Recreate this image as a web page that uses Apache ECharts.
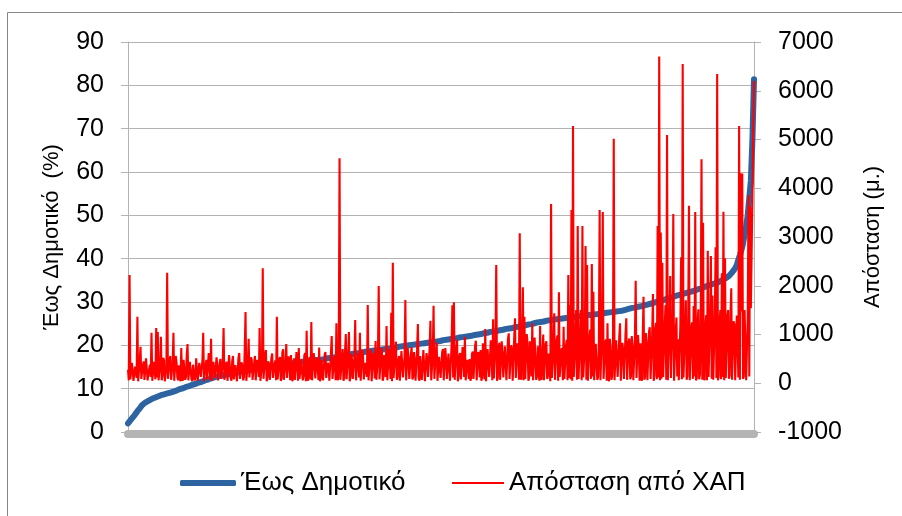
<!DOCTYPE html>
<html>
<head>
<meta charset="utf-8">
<script src="https://cdn.jsdelivr.net/npm/echarts@6/dist/echarts.min.js"></script>
<style>
html,body{margin:0;padding:0;background:#fff;}
#chart{width:902px;height:516px;}
</style>
</head>
<body>
<div id="chart"></div>
<script>
var seriesNames = ['Έως Δημοτικό', 'Απόσταση από ΧΑΠ'];
var leftAxisName = 'Έως Δημοτικό  (%)';
var rightAxisName = 'Απόσταση (μ.)';

// Έως Δημοτικό (%) — sorted ascending
var primaryValues = [
2.0,2.4,2.9,3.3,3.8,4.3,4.8,5.2,5.7,6.2,6.6,6.8,7.0,7.2,7.4,7.6,7.8,7.9,8.1,8.2,
8.4,8.5,8.6,8.7,8.8,8.9,9.0,9.1,9.2,9.3,9.5,9.6,9.8,9.9,10.0,10.1,10.3,10.4,10.5,10.6,
10.8,10.9,11.0,11.1,11.3,11.4,11.5,11.6,11.7,11.9,12.0,12.1,12.3,12.4,12.5,12.6,12.7,12.8,12.9,13.0,
13.1,13.1,13.2,13.3,13.4,13.4,13.5,13.6,13.6,13.7,13.8,13.8,13.9,14.0,14.0,14.1,14.2,14.2,14.4,14.4,
14.5,14.6,14.6,14.7,14.8,14.8,14.9,15.0,15.0,15.1,15.2,15.2,15.3,15.3,15.4,15.4,15.5,15.5,15.6,15.6,
15.7,15.7,15.8,15.8,15.9,15.9,16.0,16.0,16.1,16.1,16.2,16.2,16.3,16.3,16.4,16.4,16.5,16.5,16.6,16.6,
16.6,16.6,16.7,16.7,16.8,16.8,16.9,17.0,17.0,17.1,17.2,17.2,17.3,17.3,17.4,17.5,17.5,17.6,17.7,17.7,
17.8,17.9,17.9,18.0,18.0,18.1,18.2,18.2,18.3,18.3,18.4,18.5,18.5,18.6,18.6,18.7,18.8,18.8,18.9,18.9,
19.0,19.0,19.1,19.1,19.2,19.2,19.3,19.3,19.4,19.4,19.5,19.5,19.6,19.7,19.7,19.8,19.8,19.9,19.9,20.0,
20.1,20.1,20.2,20.2,20.3,20.3,20.4,20.4,20.5,20.5,20.6,20.6,20.7,20.7,20.8,20.8,20.9,20.9,21.0,21.0,
21.1,21.2,21.2,21.3,21.3,21.4,21.5,21.5,21.6,21.6,21.7,21.8,21.8,21.9,21.9,22.0,22.1,22.1,22.2,22.2,
22.3,22.4,22.4,22.5,22.6,22.6,22.7,22.8,22.8,22.9,23.0,23.1,23.1,23.2,23.3,23.3,23.4,23.5,23.6,23.6,
23.7,23.8,23.8,23.9,24.0,24.0,24.1,24.2,24.3,24.3,24.4,24.5,24.6,24.6,24.7,24.8,24.9,24.9,25.0,25.1,
25.2,25.3,25.3,25.4,25.5,25.5,25.6,25.7,25.8,25.8,25.9,25.9,26.0,26.0,26.1,26.1,26.2,26.2,26.3,26.3,
26.4,26.4,26.5,26.5,26.6,26.6,26.7,26.7,26.8,26.8,26.9,26.9,26.9,27.0,27.0,27.0,27.1,27.1,27.1,27.2,
27.2,27.3,27.3,27.4,27.4,27.5,27.5,27.6,27.6,27.7,27.8,27.8,27.9,27.9,28.0,28.0,28.1,28.2,28.3,28.4,
28.5,28.6,28.6,28.7,28.8,28.9,28.9,29.0,29.1,29.2,29.3,29.4,29.5,29.6,29.7,29.8,29.9,30.0,30.1,30.2,
30.3,30.4,30.5,30.7,30.8,30.9,31.0,31.1,31.3,31.4,31.5,31.6,31.7,31.8,31.9,32.0,32.1,32.2,32.3,32.4,
32.5,32.6,32.8,32.9,33.0,33.1,33.3,33.4,33.5,33.7,33.8,33.9,34.1,34.2,34.3,34.4,34.6,34.7,34.9,35.1,
35.3,35.5,35.8,36.0,36.3,36.8,37.3,37.8,38.5,39.7,40.8,42.0,43.5,45.5,47.5,50.0,54.0,58.0,67.5,81.4
];

// Απόσταση από ΧΑΠ (μ.) — same sorted order, denser sampling
var distanceValues = [
280,60,2220,80,90,420,380,50,60,340,310,110,1365,40,70,480,750,90,120,360,450,70,40,510,520,60,90,290,380,130,1037,50,60,440,430,80,1133,120,1050,60,
80,390,955,60,150,520,470,40,50,330,2268,90,110,470,560,70,70,410,1037,50,90,560,420,120,60,370,380,40,723,100,50,480,520,70,130,600,805,60,70,440,
460,90,40,380,350,60,110,510,540,50,70,420,300,130,90,470,1037,40,60,350,480,80,120,620,590,70,914,50,50,440,420,110,80,530,360,60,40,410,500,90,
100,460,1133,70,60,390,440,50,90,580,330,120,50,450,560,80,120,370,410,40,40,520,620,90,80,430,350,60,130,690,1461,50,60,400,914,120,110,530,480,70,
50,410,560,60,90,480,420,130,1133,50,70,360,2357,90,60,590,680,40,120,450,390,70,50,520,610,110,80,380,470,60,1365,80,60,470,540,50,100,630,697,70,
60,430,805,110,90,550,420,60,580,130,40,400,510,70,110,640,380,50,723,90,70,490,450,60,130,570,620,40,1078,120,50,460,540,80,1256,60,80,620,460,100,
60,520,390,70,733,40,100,480,510,60,40,590,640,110,120,420,350,50,70,610,969,90,90,470,560,60,1229,130,60,540,4614,70,80,490,700,50,110,650,1010,80,
60,560,1051,40,130,600,480,90,70,530,1297,60,90,480,620,120,1037,50,50,690,560,80,120,420,430,130,1605,60,70,570,690,40,40,620,520,100,867,70,90,550,
1995,80,60,640,720,50,110,580,480,130,1174,60,50,700,640,90,1447,40,2473,110,80,610,853,70,120,480,560,50,40,660,690,120,100,540,1708,60,70,720,520,90,
60,590,740,80,130,640,450,50,90,700,1215,110,50,560,600,70,110,680,697,40,70,620,480,130,150,740,1283,60,60,590,1591,90,90,660,832,50,40,540,560,110,
120,640,700,60,60,720,480,90,90,610,640,50,50,780,1600,120,1660,70,80,690,887,40,130,560,620,80,60,740,540,130,955,60,40,480,380,90,497,50,110,600,
650,90,70,760,873,60,50,640,560,120,682,50,120,820,480,80,1113,40,60,700,720,130,90,880,540,60,1311,100,70,790,2426,50,110,720,832,70,40,860,600,120,
130,760,800,60,60,910,1024,90,90,780,720,50,50,960,1332,110,140,820,680,70,3075,130,70,880,1968,60,1365,90,60,1010,820,50,110,860,640,140,1229,60,50,940,
900,70,130,760,740,50,1174,120,70,650,1000,60,40,810,860,90,150,610,620,40,3677,110,90,720,1434,70,60,870,980,50,1865,130,110,670,720,60,1160,90,50,770,
890,60,2220,110,1605,80,3554,50,5277,130,120,830,1500,70,3226,90,80,880,1500,60,3226,120,140,740,2815,70,2426,50,60,920,1100,90,2446,140,1878,60,90,810,800,70,
130,850,3554,60,70,980,3513,90,60,810,900,50,1229,110,40,910,760,70,150,760,5017,60,80,880,880,130,120,950,1229,50,50,830,680,90,110,1010,1332,70,60,850,
920,80,140,970,740,60,70,900,2104,110,100,990,640,50,819,130,50,950,1776,70,130,1030,800,60,60,1060,1150,90,90,970,1831,50,160,1110,1240,80,3226,120,6700,60,
3090,90,2473,130,120,1150,1600,70,5092,60,80,1070,2200,110,140,1200,3472,50,60,1040,1350,140,900,60,100,1180,2583,80,6549,120,90,1090,1700,70,150,1270,3643,60,70,1130,
1250,90,1584,140,3513,60,110,1230,1516,80,180,1300,4593,70,3294,120,60,1180,1400,60,2720,130,130,1350,2610,90,1800,70,90,1320,2788,110,6344,60,150,1220,1500,80,2255,130,
3520,60,2563,110,70,1370,1500,90,160,1430,1947,70,100,1270,1200,60,60,1390,900,120,5277,70,4306,1470,4300,90,140,1500,1500,60,80,1330,3862,140,3621,1540,1500,3800,5200,6200
];

var categories = primaryValues.map(function (_, i) { return String(i + 1); });
var detailCategories = distanceValues.map(function (_, i) { return String(i + 1); });

var font = 'Liberation Sans, Arial, sans-serif';
var gridGray = '#b3b3b3';
var blue = '#2e63a1';
var red = '#ff0000';

var chart = echarts.init(document.getElementById('chart'), null, {renderer: 'canvas'});
chart.setOption({
  animation: false,
  backgroundColor: '#ffffff',
  textStyle: {fontFamily: font},
  graphic: [{
    type: 'rect',
    shape: {x: 7.5, y: 12.5, width: 910, height: 520},
    style: {fill: 'none', stroke: '#868686', lineWidth: 1},
    silent: true, z: -10
  }],
  grid: {left: 128, right: 148, top: 42, bottom: 84, containLabel: false},
  legend: [{
    left: 175, top: 465, padding: 5,
    itemWidth: 56, itemHeight: 6, icon: 'roundRect',
    textStyle: {fontFamily: font, fontSize: 26, color: '#000'},
    data: [{name: seriesNames[0], itemStyle: {color: blue}}]
  }, {
    left: 447, top: 465, padding: 5,
    itemWidth: 52, itemHeight: 2, icon: 'rect',
    textStyle: {fontFamily: font, fontSize: 26, color: '#000'},
    data: [{name: seriesNames[1], itemStyle: {color: red}}]
  }],
  xAxis: [{
    type: 'category',
    data: categories,
    boundaryGap: false,
    offset: 2,
    axisLine: {onZero: false, lineStyle: {color: '#b4b4b4', width: 8}},
    axisTick: {show: false},
    axisLabel: {show: false},
    splitLine: {show: false}
  }, {
    type: 'category',
    data: detailCategories,
    boundaryGap: false,
    position: 'bottom',
    show: false
  }],
  yAxis: [{
    type: 'value', min: 0, max: 90, interval: 10, position: 'left',
    name: leftAxisName, nameLocation: 'middle', nameGap: 65,
    nameTextStyle: {fontFamily: font, fontSize: 22, color: '#000'},
    axisLine: {show: true, lineStyle: {color: gridGray}},
    axisTick: {show: true, length: 7, lineStyle: {color: gridGray}},
    axisLabel: {fontFamily: font, fontSize: 25, color: '#000', margin: 24},
    splitLine: {show: true, lineStyle: {color: gridGray, width: 1}}
  }, {
    type: 'value', min: -1000, max: 7000, interval: 1000, position: 'right',
    name: rightAxisName, nameLocation: 'middle', nameGap: 108, nameRotate: 90,
    nameTextStyle: {fontFamily: font, fontSize: 22, color: '#000'},
    axisLine: {show: true, lineStyle: {color: gridGray}},
    axisTick: {show: true, length: 7, lineStyle: {color: gridGray}},
    axisLabel: {fontFamily: font, fontSize: 25, color: '#000', margin: 24,
      formatter: function (v) { return String(v); }},
    splitLine: {show: false}
  }],
  series: [{
    name: seriesNames[0], type: 'line', xAxisIndex: 0, yAxisIndex: 0,
    data: primaryValues, showSymbol: false, symbol: 'none',
    lineStyle: {color: blue, width: 6, cap: 'round', join: 'round'},
    itemStyle: {color: blue},
    z: 2
  }, {
    name: seriesNames[1], type: 'line', xAxisIndex: 1, yAxisIndex: 1,
    data: distanceValues, showSymbol: false, symbol: 'none',
    lineStyle: {color: red, width: 2.1},
    itemStyle: {color: red},
    z: 3
  }]
});
</script>
</body>
</html>
